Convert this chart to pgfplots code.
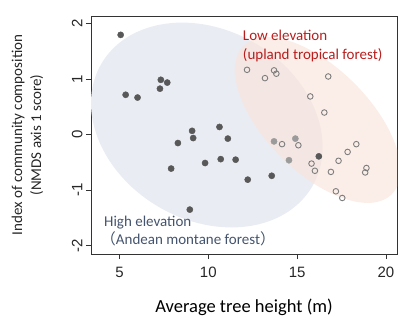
\documentclass[border=0pt]{standalone}
\usepackage{pgfplots}
\pgfplotsset{compat=1.18}
\usepackage{fontspec}
\setmainfont{Carlito}
\newfontfamily\arialf{Liberation Sans}
\newfontfamily\cjk{Noto Sans CJK JP}
\definecolor{bluefill}{RGB}{233,236,243}
\definecolor{pinkfill}{RGB}{250,230,221}
\definecolor{darkpt}{RGB}{88,88,88}
\definecolor{midpt}{RGB}{155,155,155}
\definecolor{openpt}{RGB}{125,125,125}
\definecolor{lowred}{RGB}{185,30,30}
\definecolor{highblue}{RGB}{68,84,110}
\begin{document}
\begin{tikzpicture}
\path[use as bounding box] (-91bp,-75bp) rectangle (326bp,254bp);
\begin{axis}[
  scale only axis, width=306bp, height=238bp,
  xmin=3.4, xmax=20.62, ymin=-2.15, ymax=2.14,
  axis line style={color=black!80, line width=0.8pt},
  xtick={5,10,15,20}, ytick={-2,-1,0,1,2},
  tick align=outside, tick pos=left, major tick length=5bp,
  tick style={black!80, line width=0.8pt},
  ticklabel style={font=\arialf\fontsize{15bp}{18bp}\selectfont, text=black!85},
  /pgf/number format/assume math mode=true,
  xticklabel style={yshift=-5bp},
  yticklabel style={rotate=90, anchor=south},
  xlabel={Average tree height (m)},
  xlabel style={font=\fontsize{18.5bp}{22bp}\selectfont, at={(axis description cs:0.5,0)}, anchor=center, yshift=-53bp},
  clip=true,
]
\fill[bluefill, rotate around={-30:(axis cs:9.92,0.175)}] (axis cs:9.92,0.175) ellipse [x radius=122bp, y radius=95bp];
\fill[pinkfill, opacity=0.7, rotate around={-45:(axis cs:16.15,0.265)}] (axis cs:16.15,0.265) ellipse [x radius=105bp, y radius=52bp];

\addplot[only marks, mark=*, mark size=3.1bp, draw=darkpt, fill=darkpt] coordinates {
(5.07,1.80) (7.33,0.99) (7.69,0.94) (7.28,0.83) (5.35,0.72) (6.02,0.67)
(10.63,0.14) (9.09,0.07) (9.15,-0.06) (8.29,-0.15) (11.10,-0.07)
(7.91,-0.61) (9.82,-0.51) (10.70,-0.44) (11.54,-0.45) (12.22,-0.81)
(13.57,-0.74) (8.96,-1.35) (16.22,-0.39)
};
\addplot[only marks, mark=*, mark size=3.1bp, draw=midpt, fill=midpt] coordinates {
(13.70,-0.12) (14.90,-0.07) (14.54,-0.46)
};
\addplot[only marks, mark=o, mark size=2.8bp, draw=openpt, line width=0.9bp] coordinates {
(12.18,1.17) (13.19,1.02) (13.70,1.16) (13.83,1.10) (16.75,1.05)
(15.74,0.69) (16.53,0.40) (14.15,-0.17) (15.07,-0.19) (15.81,-0.52)
(16.00,-0.65) (16.90,-0.67) (17.33,-0.47) (17.84,-0.31) (18.33,-0.17)
(18.90,-0.60) (18.83,-0.68) (17.18,-1.02) (17.54,-1.14)
};

\node[anchor=base west, inner sep=0pt, text=lowred, font=\fontsize{15bp}{18bp}\selectfont] at (axis cs:11.94,1.70) {Low elevation};
\node[anchor=base west, inner sep=0pt, text=lowred, font=\fontsize{15bp}{18bp}\selectfont] at (axis cs:11.94,1.36) {(upland tropical forest)};
\node[anchor=base west, inner sep=0pt, text=highblue, font=\fontsize{15bp}{18bp}\selectfont] at (axis cs:4.13,-1.66) {High elevation};
\node[anchor=base west, inner sep=0pt, text=highblue, font=\fontsize{15bp}{18bp}\selectfont] at (axis cs:3.95,-1.97) {{\cjk （}Andean montane forest{\cjk ）}};
\end{axis}
\node[rotate=90, align=center, font=\fontsize{15bp}{19bp}\selectfont, text=black!85] at (-63.5bp,119bp) {Index of community composition\\(NMDS axis 1 score)};
\end{tikzpicture}
\end{document}
